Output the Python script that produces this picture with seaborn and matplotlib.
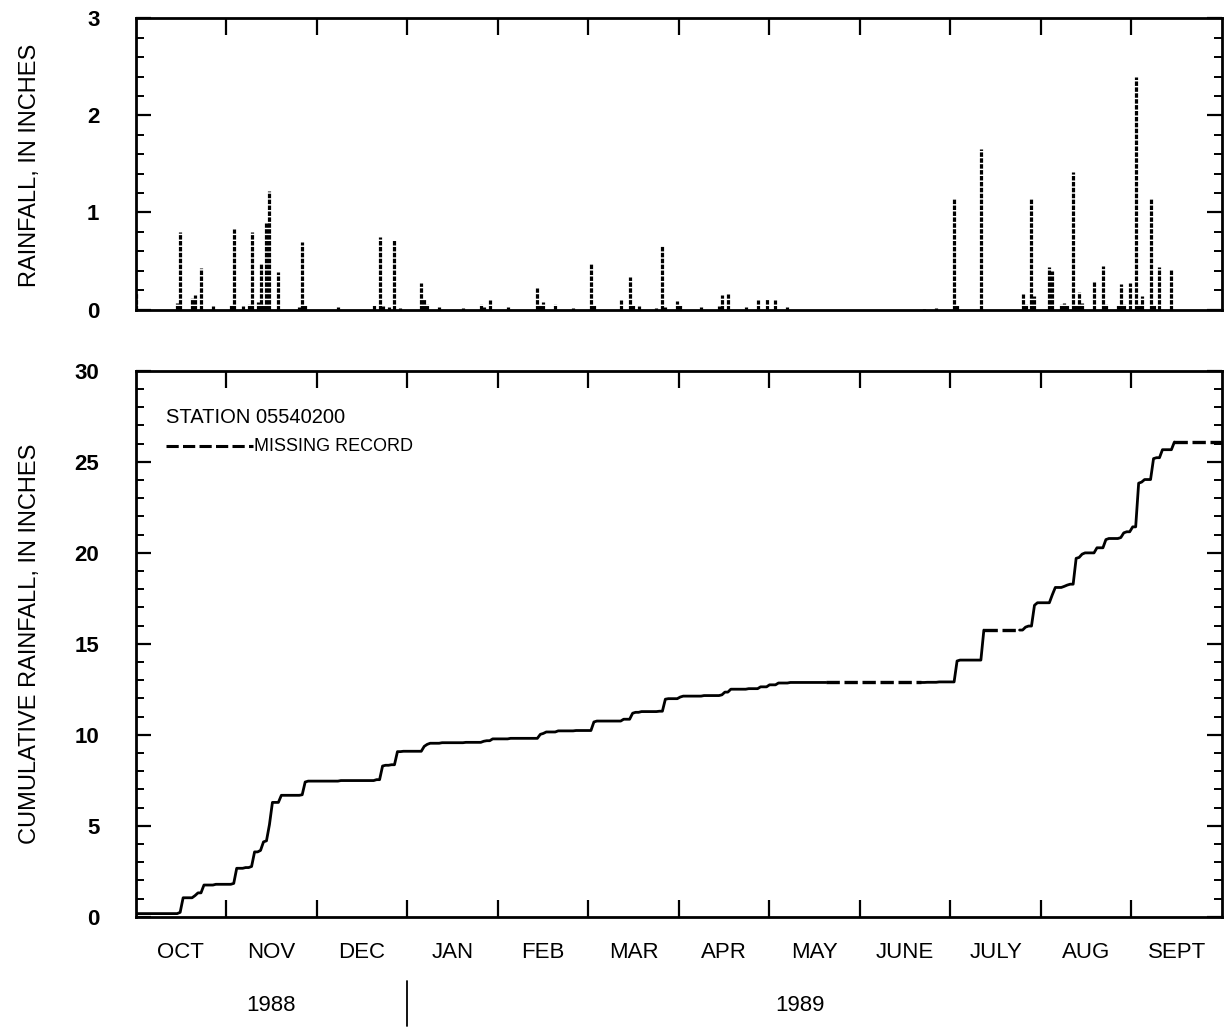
import numpy as np
import pandas as pd
import matplotlib
matplotlib.use('Agg')
import matplotlib.pyplot as plt
import matplotlib.transforms as mtransforms
from matplotlib.ticker import MultipleLocator, FixedLocator, NullFormatter
import seaborn as sns

sns.set_style('ticks')
plt.rcParams['font.family'] = ['Liberation Sans', 'DejaVu Sans']
plt.rcParams['text.color'] = 'black'
plt.rcParams['xtick.color'] = 'black'
plt.rcParams['ytick.color'] = 'black'
plt.rcParams['axes.edgecolor'] = 'black'

# daily rainfall, water year Oct 1 1988 - Sep 30 1989 (day 0 = Oct 1)
rain_day = [0, 14, 15, 19, 20, 22, 26, 32, 33, 36,
            38, 39, 41, 42, 43, 44, 45, 48, 55, 56,
            57, 68, 80, 82, 83, 85, 87, 89, 96, 97,
            98, 102, 110, 116, 117, 119, 125, 135, 136, 137,
            141, 147, 153, 154, 163, 166, 167, 169, 175, 177,
            178, 182, 183, 190, 196, 197, 199, 205, 209, 212,
            215, 219, 265, 269, 275, 276, 284, 298, 299, 301,
            302, 307, 308, 311, 312, 313, 315, 316, 317, 318,
            322, 325, 326, 330, 331, 332, 334, 336, 337, 338,
            341, 342, 344, 348]
rain_in = [0.17, 0.07, 0.80, 0.12, 0.15, 0.43, 0.04, 0.05, 0.83, 0.04,
           0.06, 0.80, 0.08, 0.47, 0.06, 0.89, 1.22, 0.39, 0.03, 0.70,
           0.05, 0.03, 0.05, 0.75, 0.04, 0.03, 0.72, 0.02, 0.27, 0.11,
           0.06, 0.03, 0.02, 0.06, 0.03, 0.10, 0.03, 0.22, 0.05, 0.08,
           0.06, 0.02, 0.47, 0.05, 0.10, 0.33, 0.05, 0.04, 0.02, 0.66,
           0.03, 0.09, 0.05, 0.03, 0.04, 0.15, 0.16, 0.03, 0.10, 0.11,
           0.10, 0.03, 0.01, 0.02, 1.15, 0.05, 1.65, 0.16, 0.06, 1.14,
           0.14, 0.44, 0.40, 0.06, 0.07, 0.05, 1.42, 0.05, 0.18, 0.07,
           0.28, 0.45, 0.06, 0.05, 0.26, 0.06, 0.27, 2.40, 0.06, 0.14,
           1.15, 0.05, 0.44, 0.42]

# periods of missing record (day numbers)
missing_start = [232, 285, 349]
missing_end = [264, 297, 365]

month_names = ['OCT', 'NOV', 'DEC', 'JAN', 'FEB', 'MAR',
               'APR', 'MAY', 'JUNE', 'JULY', 'AUG', 'SEPT']
year_names = ['1988', '1989']
station = 'STATION 05540200'

N_DAYS = 365
W, H = 1231, 1028

daily = np.zeros(N_DAYS)
daily[rain_day] = rain_in
cum = np.cumsum(daily)
cum_x = np.arange(N_DAYS + 1)
cum_y = np.concatenate([[cum[0]], cum])

fig = plt.figure(figsize=(W / 100, H / 100), dpi=100)
ax1 = fig.add_axes([135.5 / W, 1 - 309.5 / H, 1086.5 / W, 291.2 / H])
ax2 = fig.add_axes([135.5 / W, 1 - 916.7 / H, 1086.5 / W, 546.0 / H])

bounds = np.arange(13) * N_DAYS / 12.0
centers = (bounds[:-1] + bounds[1:]) / 2

# top panel: daily rainfall
ax1.vlines(rain_day, 0, rain_in, colors='black', linewidth=2.3,
           linestyles=[(0, (1.4, 0.45))])
ax1.set_xlim(0, N_DAYS)
ax1.set_ylim(0, 3)
ax1.yaxis.set_major_locator(MultipleLocator(1))
ax1.yaxis.set_minor_locator(MultipleLocator(0.2))
ax1.xaxis.set_major_locator(FixedLocator(bounds[1:-1]))
ax1.xaxis.set_major_formatter(NullFormatter())
ax1.tick_params(axis='x', which='major', direction='in', top=True, bottom=False,
                length=12, width=1.6)
ax1.tick_params(axis='y', which='major', direction='in', left=True, right=True,
                length=11, width=1.6, labelsize=16, pad=26)
ax1.tick_params(axis='y', which='minor', direction='in', left=True, right=True,
                length=6, width=1.4)

# bottom panel: cumulative rainfall
edges = [0]
styles = []
for s, e in zip(missing_start, missing_end):
    edges += [s, e]
    styles += ['solid', 'missing']
edges.append(N_DAYS)
styles.append('solid')
for k, st in enumerate(styles):
    a, b = edges[k], edges[k + 1]
    if b <= a:
        continue
    seg_x = cum_x[a:b + 1]
    seg_y = cum_y[a:b + 1]
    if st == 'solid':
        sns.lineplot(x=seg_x, y=seg_y, ax=ax2, color='black', linewidth=2,
                     estimator=None, sort=False)
    else:
        ax2.plot(seg_x, seg_y, color='black', linewidth=2.4, dashes=(4, 1.4))

ax2.set_xlim(0, N_DAYS)
ax2.set_ylim(0, 30)
ax2.yaxis.set_major_locator(MultipleLocator(5))
ax2.yaxis.set_minor_locator(MultipleLocator(1))
ax2.xaxis.set_major_locator(FixedLocator(bounds[1:-1]))
ax2.xaxis.set_major_formatter(NullFormatter())
ax2.xaxis.set_minor_locator(FixedLocator(centers))
ax2.set_xticklabels(month_names, minor=True)
ax2.tick_params(axis='x', which='major', direction='in', top=True, bottom=True,
                length=12, width=1.6)
ax2.tick_params(axis='x', which='minor', length=0, labelsize=16, pad=18)
ax2.tick_params(axis='y', which='major', direction='in', left=True, right=True,
                length=11, width=1.6, labelsize=16, pad=26)
ax2.tick_params(axis='y', which='minor', direction='in', left=True, right=True,
                length=6, width=1.4)

for ax in (ax1, ax2):
    ax.set_xlabel('')
    ax.set_ylabel('')
    for lab in ax.get_yticklabels():
        lab.set_fontweight('bold')
    for sp in ax.spines.values():
        sp.set_visible(True)
        sp.set_linewidth(2)
        sp.set_color('black')

fig.text(30 / W, 1 - 165 / H, 'RAINFALL, IN INCHES', rotation=90,
         ha='center', va='center', fontsize=17)
fig.text(30 / W, 1 - 644 / H, 'CUMULATIVE RAINFALL, IN INCHES', rotation=90,
         ha='center', va='center', fontsize=17)

# legend block
ax2.text(0.028, 0.915, station, transform=ax2.transAxes, fontsize=14.5,
         ha='left', va='center')
ax2.plot([0.028, 0.108], [0.862, 0.862], transform=ax2.transAxes,
         color='black', linewidth=2.2, dashes=(4, 1.4))
ax2.text(0.109, 0.862, 'MISSING RECORD', transform=ax2.transAxes,
         fontsize=13, ha='left', va='center')

# year row with separator at Jan 1
trans = mtransforms.blended_transform_factory(ax2.transData, ax2.transAxes)
ax2.plot([bounds[3], bounds[3]], [-0.118, -0.200], transform=trans,
         color='black', linewidth=1.3, clip_on=False)
ax2.text((bounds[0] + bounds[3]) / 2, -0.162, year_names[0], transform=trans,
         ha='center', va='center', fontsize=16)
ax2.text((bounds[3] + bounds[12]) / 2 - 5, -0.162, year_names[1], transform=trans,
         ha='center', va='center', fontsize=16)

fig.savefig('out.png', dpi=100)
